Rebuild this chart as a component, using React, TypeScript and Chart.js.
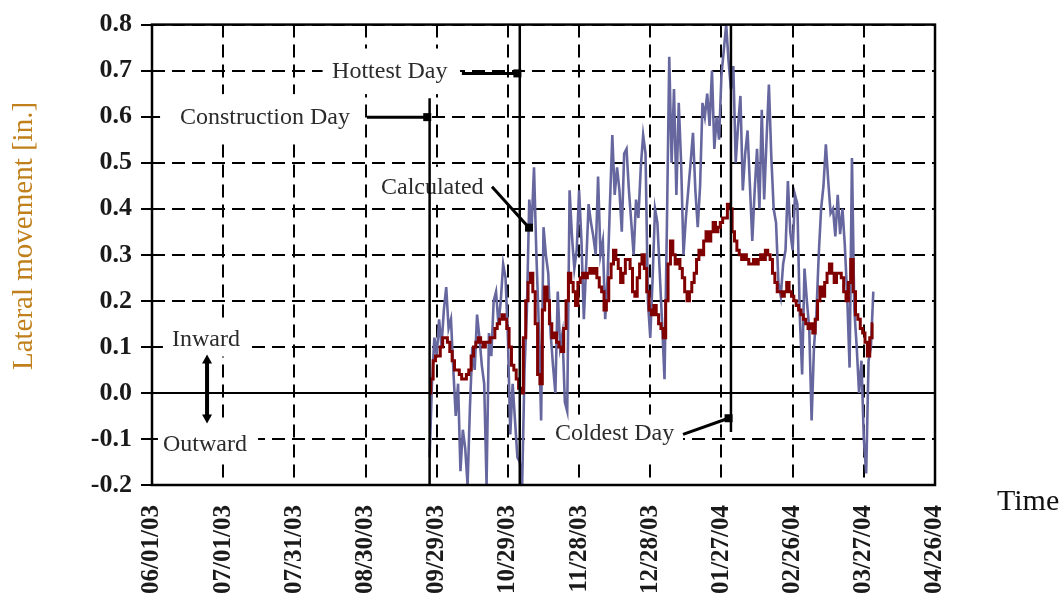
import React, { useEffect, useRef } from 'react';
import { Chart, registerables } from 'chart.js';

Chart.register(...registerables);

// ---------- data ----------
const tickLabels = ['06/01/03', '07/01/03', '07/31/03', '08/30/03', '09/29/03', '10/29/03', '11/28/03', '12/28/03', '01/27/04', '02/26/04', '03/27/04', '04/26/04'];
const tickDays = [0, 30, 60, 90, 120, 150, 180, 210, 240, 270, 300, 330];
const yTicks = [-0.2, -0.1, 0, 0.1, 0.2, 0.3, 0.4, 0.5, 0.6, 0.7, 0.8];

// days since 06/01/03 of the first daily reading (09/26/03)
const startDay = 117;

const measured = [
  -0.14, 0.02, 0.12, 0.08, 0.16, 0.10, 0.18, 0.23, 0.14, 0.16,
  0.05, -0.05, 0.02, -0.17, -0.08, -0.12, -0.20, -0.03, 0.10, 0.05,
  0.17, 0.12, 0.06, 0.02, -0.20, 0.13, 0.08, 0.20, 0.22, 0.15,
  0.20, 0.28, 0.25, 0.12, -0.09, 0.02, -0.06, -0.14, -0.15, -0.20,
  0.05, 0.18, 0.42, 0.36, 0.49, 0.30, 0.15, -0.06, 0.36, 0.30,
  0.26, 0.13, 0.06, 0.00, 0.22, 0.10, 0.13, -0.02, -0.04, 0.44,
  0.34, 0.27, 0.31, 0.44, 0.33, 0.16, 0.28, 0.41, 0.37, 0.34,
  0.30, 0.47, 0.30, 0.33, 0.16, 0.25, 0.41, 0.56, 0.43, 0.49,
  0.44, 0.35, 0.52, 0.53, 0.44, 0.37, 0.30, 0.42, 0.38, 0.49,
  0.56, 0.52, 0.20, 0.12, 0.25, 0.40, 0.37, 0.26, 0.15, 0.03,
  0.36, 0.73, 0.50, 0.66, 0.43, 0.63, 0.50, 0.30, 0.38, 0.44,
  0.50, 0.565, 0.44, 0.36, 0.45, 0.63, 0.60, 0.65, 0.58, 0.70,
  0.53, 0.60, 0.55, 0.69, 0.745, 0.80, 0.72, 0.66, 0.71, 0.50,
  0.58, 0.645, 0.44, 0.52, 0.57, 0.45, 0.33, 0.44, 0.53, 0.40,
  0.615, 0.42, 0.55, 0.67, 0.515, 0.40, 0.37, 0.24, 0.21, 0.28,
  0.31, 0.46, 0.35, 0.31, 0.43, 0.41, 0.17, 0.04, 0.27, 0.20,
  0.14, -0.06, 0.10, 0.17, 0.30, 0.40, 0.45, 0.54, 0.46, 0.39,
  0.40, 0.34, 0.43, 0.345, 0.40, 0.32, 0.21, 0.055, 0.51, 0.18,
  0.10, 0.00, 0.07, -0.10, -0.175, 0.07, 0.10, 0.22,
];

const calculated = [
  0.00, 0.03, 0.07, 0.08, 0.08, 0.10, 0.12, 0.12, 0.11, 0.09,
  0.07, 0.05, 0.05, 0.04, 0.03, 0.03, 0.04, 0.05, 0.08, 0.10,
  0.11, 0.12, 0.11, 0.10, 0.11, 0.11, 0.12, 0.12, 0.14, 0.15,
  0.16, 0.17, 0.16, 0.14, 0.10, 0.06, 0.05, 0.03, 0.01, 0.00,
  0.12, 0.20, 0.24, 0.26, 0.22, 0.15, 0.04, 0.02, 0.18, 0.23,
  0.20, 0.15, 0.12, 0.13, 0.11, 0.10, 0.09, 0.14, 0.20, 0.26,
  0.24, 0.22, 0.19, 0.24, 0.25, 0.26, 0.25, 0.26, 0.27, 0.26,
  0.27, 0.25, 0.23, 0.22, 0.18, 0.20, 0.25, 0.28, 0.31, 0.29,
  0.27, 0.24, 0.26, 0.29, 0.29, 0.27, 0.22, 0.21, 0.25, 0.28,
  0.30, 0.27, 0.22, 0.18, 0.17, 0.19, 0.17, 0.15, 0.14, 0.12,
  0.20, 0.28, 0.33, 0.30, 0.28, 0.29, 0.27, 0.25, 0.22, 0.20,
  0.22, 0.24, 0.26, 0.29, 0.31, 0.30, 0.33, 0.35, 0.33, 0.35,
  0.37, 0.35, 0.36, 0.37, 0.38, 0.38, 0.41, 0.40, 0.35, 0.33,
  0.31, 0.30, 0.29, 0.30, 0.29, 0.28, 0.28, 0.29, 0.28, 0.29,
  0.30, 0.29, 0.31, 0.30, 0.29, 0.26, 0.24, 0.22, 0.22, 0.21,
  0.22, 0.24, 0.22, 0.21, 0.20, 0.19, 0.18, 0.17, 0.16, 0.15,
  0.14, 0.15, 0.13, 0.16, 0.20, 0.23, 0.21, 0.24, 0.26, 0.28,
  0.26, 0.24, 0.26, 0.26, 0.25, 0.22, 0.20, 0.24, 0.29, 0.22,
  0.17, 0.16, 0.14, 0.13, 0.11, 0.08, 0.12, 0.15,
];

const eventNames = ['Construction Day', 'Hottest Day', 'Coldest Day'];
const eventDays = [117, 155, 244];

// ---------- annotation plugin ----------
const annotPlugin = {
  id: 'annot',
  beforeDatasetsDraw(chart: any) {
    const { ctx, scales } = chart;
    const X = (d: number) => scales.x.getPixelForValue(d);
    const Y = (v: number) => scales.y.getPixelForValue(v);
    ctx.save();
    const boxes: number[][] = [
      [71.9, 0.748, 129.8, 0.649],
      [3.4, 0.649, 89.8, 0.55],
      [94, 0.491, 143.3, 0.409],
      [165.6, -0.047, 223.8, -0.15],
      [4.6, 0.156, 42.1, 0.079],
      [2.5, -0.064, 44.7, -0.15],
    ];
    ctx.fillStyle = '#ffffff';
    boxes.forEach((b) => {
      ctx.fillRect(X(b[0]), Y(b[1]), X(b[2]) - X(b[0]), Y(b[3]) - Y(b[1]));
    });
    ctx.font = '24px "Liberation Serif"';
    ctx.fillStyle = '#2b2b2b';
    ctx.textAlign = 'left';
    ctx.textBaseline = 'alphabetic';
    const texts: [string, number, number][] = [
      [eventNames[1], 75.9, 0.683],
      [eventNames[0], 11.8, 0.584],
      ['Calculated', 96.5, 0.433],
      [eventNames[2], 169.8, -0.103],
      ['Inward', 8.4, 0.102],
      ['Outward', 4.6, -0.127],
    ];
    texts.forEach((t) => ctx.fillText(t[0], X(t[1]), Y(t[2])));
    ctx.restore();
  },
  afterDatasetsDraw(chart: any) {
    const { ctx, scales, chartArea } = chart;
    const X = (d: number) => scales.x.getPixelForValue(d);
    const Y = (v: number) => scales.y.getPixelForValue(v);
    ctx.save();
    ctx.strokeStyle = '#000';
    ctx.fillStyle = '#000';
    ctx.setLineDash([]);
    const spans: [number, number][] = [[0.64, -0.2], [0.8, -0.2], [0.8, -0.085]];
    ctx.lineWidth = 2.5;
    eventDays.forEach((d, i) => {
      ctx.beginPath();
      ctx.moveTo(X(d), Y(spans[i][0]));
      ctx.lineTo(X(d), Y(spans[i][1]));
      ctx.stroke();
    });
    const arrows: number[][] = [
      [130.6, 0.694, 154, 0.694],
      [90.6, 0.599, 116, 0.599],
      [143.3, 0.448, 158.9, 0.359],
      [223.8, -0.09, 243, -0.055],
    ];
    ctx.lineWidth = 3;
    arrows.forEach((a) => {
      const x1 = X(a[0]), y1 = Y(a[1]), x2 = X(a[2]), y2 = Y(a[3]);
      ctx.beginPath();
      ctx.moveTo(x1, y1);
      ctx.lineTo(x2, y2);
      ctx.stroke();
      ctx.fillRect(x2 - 4, y2 - 4, 8, 8);
    });
    const ax = X(23.2), ay1 = Y(0.077), ay2 = Y(-0.06);
    ctx.lineWidth = 4;
    ctx.beginPath();
    ctx.moveTo(ax, ay1 + 4);
    ctx.lineTo(ax, ay2 - 4);
    ctx.stroke();
    ctx.beginPath();
    ctx.moveTo(ax, ay1 - 3);
    ctx.lineTo(ax - 5, ay1 + 6);
    ctx.lineTo(ax + 5, ay1 + 6);
    ctx.closePath();
    ctx.fill();
    ctx.beginPath();
    ctx.moveTo(ax, ay2 + 3);
    ctx.lineTo(ax - 5, ay2 - 6);
    ctx.lineTo(ax + 5, ay2 - 6);
    ctx.closePath();
    ctx.fill();
    ctx.lineWidth = 2.5;
    ctx.strokeRect(chartArea.left, chartArea.top, chartArea.right - chartArea.left, chartArea.bottom - chartArea.top);
    ctx.restore();
  },
  afterDraw(chart: any) {
    const { ctx } = chart;
    ctx.save();
    ctx.translate(24, 236);
    ctx.rotate(-Math.PI / 2);
    ctx.font = '29px "Liberation Serif"';
    ctx.fillStyle = '#c0801c';
    ctx.textAlign = 'center';
    ctx.textBaseline = 'middle';
    ctx.fillText('Lateral movement [in.]', 0, 0);
    ctx.restore();
    ctx.save();
    ctx.font = '30px "Liberation Serif"';
    ctx.fillStyle = '#111';
    ctx.textAlign = 'left';
    ctx.textBaseline = 'alphabetic';
    ctx.fillText('Time', 997, 510);
    ctx.restore();
  },
};

export default function App() {
  const ref = useRef<HTMLCanvasElement>(null);
  useEffect(() => {
    if (!ref.current) return;
    const dash = [13, 7];
    const chart = new Chart(ref.current, {
      type: 'line',
      data: {
        datasets: [
          {
            label: 'Measured',
            data: measured.map((v, i) => ({ x: startDay + i, y: v })),
            borderColor: '#67679f',
            borderWidth: 2.6,
            pointRadius: 0,
            tension: 0,
            order: 2,
          },
          {
            label: 'Calculated',
            data: calculated.map((v, i) => ({ x: startDay + i, y: v })),
            borderColor: '#800000',
            borderWidth: 3,
            pointRadius: 0,
            stepped: 'middle',
            order: 1,
          },
        ],
      },
      options: {
        animation: false,
        responsive: false,
        devicePixelRatio: 1,
        layout: { padding: { left: 0, top: 22, right: 124, bottom: 0 } },
        plugins: { legend: { display: false }, tooltip: { enabled: false } },
        scales: {
          x: {
            type: 'linear',
            min: 0,
            max: 330,
            afterBuildTicks: (s: any) => {
              s.ticks = tickDays.map((v) => ({ value: v }));
            },
            afterFit: (s: any) => {
              s.height = 121;
            },
            ticks: {
              autoSkip: false,
              minRotation: 90,
              maxRotation: 90,
              padding: 20,
              color: '#1a1a1a',
              font: { family: '"Liberation Serif"', size: 25, weight: 'bold' },
              callback: (v: any) => tickLabels[tickDays.indexOf(Number(v))],
            },
            grid: { color: '#000', lineWidth: 2, drawTicks: false },
            border: { display: false, dash: dash },
          },
          y: {
            type: 'linear',
            min: -0.2,
            max: 0.8,
            afterBuildTicks: (s: any) => {
              s.ticks = yTicks.map((v) => ({ value: v }));
            },
            afterFit: (s: any) => {
              s.width = 152;
            },
            ticks: {
              padding: 9,
              color: '#1a1a1a',
              font: { family: '"Liberation Serif"', size: 26, weight: 'bold' },
              callback: (v: any) => Number(v).toFixed(1),
            },
            grid: { color: '#000', lineWidth: 2, tickLength: 11 },
            border: {
              display: false,
              dash: (c: any) => (c.tick && Math.abs(c.tick.value) < 1e-9 ? [] : dash),
            },
          },
        },
      },
      plugins: [annotPlugin],
    } as any);
    return () => chart.destroy();
  }, []);
  return (
    <div style={{ position: 'absolute', left: 0, top: 0, width: 1059, height: 606, background: '#fff' }}>
      <canvas ref={ref} width={1059} height={606} />
    </div>
  );
}
